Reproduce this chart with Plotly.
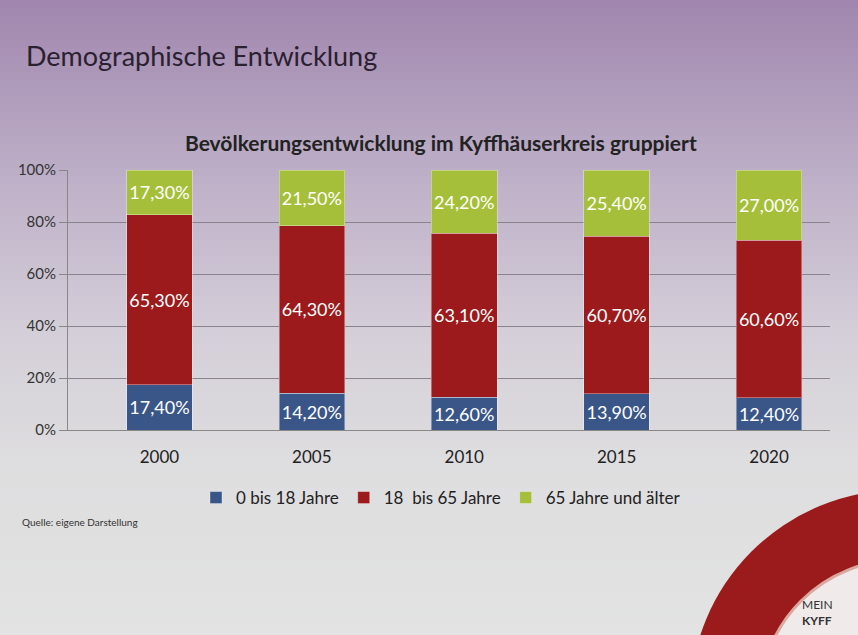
import plotly.graph_objects as go

years = ["2000", "2005", "2010", "2015", "2020"]
jung = [17.4, 14.2, 12.6, 13.9, 12.4]
mittel = [65.3, 64.3, 63.1, 60.7, 60.6]
alt = [17.3, 21.5, 24.2, 25.4, 27.0]
series_names = ["0 bis 18 Jahre", "18  bis 65 Jahre", "65 Jahre und älter"]
colors = ["#3a5688", "#9c1a1c", "#a6bf3a"]
tick_vals = [0, 20, 40, 60, 80, 100]
tick_text = ["0%", "20%", "40%", "60%", "80%", "100%"]

def fmt(v):
    return f"{v:.2f}".replace(".", ",") + "%"

FONT = "Lato"
W, H = 858, 635
ML, MR, MT, MB = 68, 28, 170, 205
PW, PH = W - ML - MR, H - MT - MB

def px_x(x):
    return (x - ML) / PW

def px_y(y):
    return (H - MB - y) / PH

fig = go.Figure()
for name, vals, col in zip(series_names, [jung, mittel, alt], colors):
    fig.add_trace(go.Bar(
        x=years, y=vals, name=name,
        marker=dict(color=col, line=dict(color="rgba(255,255,255,0.35)", width=1)),
        text=[fmt(v) for v in vals], textposition="inside", insidetextanchor="middle",
        textangle=0, constraintext="none",
        textfont=dict(color="white", size=18, family=FONT),
        width=0.43,
    ))

# background gradient (purple top -> light grey bottom)
stops = [(0, (160, 134, 174)), (180, (190, 176, 200)), (330, (212, 206, 216)), (460, (222, 221, 223)), (635, (226, 227, 226))]

def col_at(y):
    for (y0, c0), (y1, c1) in zip(stops[:-1], stops[1:]):
        if y0 <= y <= y1:
            t = (y - y0) / (y1 - y0)
            return "rgb(%d,%d,%d)" % tuple(round(a + (b - a) * t) for a, b in zip(c0, c1))
    return "rgb(%d,%d,%d)" % stops[-1][1]

shapes = []
step = 8
for yy in range(0, H, step):
    shapes.append(dict(type="rect", xref="paper", yref="paper", layer="below",
                       x0=px_x(-5), x1=px_x(W + 5), y0=px_y(yy + step + 1), y1=px_y(yy),
                       fillcolor=col_at(yy + step / 2), line=dict(width=0)))
# logo ring bottom-right
cx, cy = 900, 700
shapes.append(dict(type="circle", xref="paper", yref="paper", layer="above",
                   x0=px_x(cx - 210), x1=px_x(cx + 210), y0=px_y(cy + 210), y1=px_y(cy - 210),
                   fillcolor="#9b1a1c", line=dict(width=0)))
shapes.append(dict(type="circle", xref="paper", yref="paper", layer="above",
                   x0=px_x(cx - 140), x1=px_x(cx + 140), y0=px_y(cy + 140), y1=px_y(cy - 140),
                   fillcolor="#f0ebea", line=dict(color="#d9a9a0", width=3)))

fig.update_layout(
    width=W, height=H,
    margin=dict(l=ML, r=MR, t=MT, b=MB),
    paper_bgcolor="#d6d0da", plot_bgcolor="rgba(0,0,0,0)",
    barmode="stack",
    font=dict(family=FONT, color="#2a2530"),
    shapes=shapes,
    showlegend=True,
    legend=dict(orientation="h", x=px_x(441), xanchor="center", y=px_y(480), yanchor="top",
                font=dict(size=17, family=FONT, color="#222"), traceorder="normal",
                bgcolor="rgba(0,0,0,0)", itemwidth=30),
    xaxis=dict(showgrid=False, showline=True, linecolor="#888", linewidth=1, range=[-0.6, 4.4],
               tickfont=dict(size=17, color="#222"), ticks="", ticklabelstandoff=12),
    yaxis=dict(range=[0, 100], tickvals=tick_vals, ticktext=tick_text,
               showgrid=True, gridcolor="#8a8490", gridwidth=1,
               showline=True, linecolor="#888", ticks="outside", ticklen=8, tickcolor="#888",
               tickfont=dict(size=15, color="#333"), zeroline=False),
    annotations=[
        dict(text="Demographische Entwicklung", xref="paper", yref="paper", x=px_x(24), y=px_y(55),
             xanchor="left", yanchor="middle", showarrow=False,
             font=dict(size=27, family=FONT, color="#2a2030")),
        dict(text="<b>Bevölkerungsentwicklung im Kyffhäuserkreis gruppiert</b>", xref="paper", yref="paper",
             x=px_x(441), y=px_y(143), xanchor="center", yanchor="middle", showarrow=False,
             font=dict(size=21, family=FONT, color="#222")),
        dict(text="Quelle: eigene Darstellung", xref="paper", yref="paper", x=px_x(20), y=px_y(522),
             xanchor="left", yanchor="middle", showarrow=False,
             font=dict(size=10, family=FONT, color="#333")),
        dict(text="MEIN<br><b>KYFF</b>", xref="paper", yref="paper", x=px_x(800), y=px_y(612),
             xanchor="left", yanchor="middle", showarrow=False, align="left",
             font=dict(size=12, family=FONT, color="#333")),
    ],
)

fig.write_html("out.html", config={"displayModeBar": False},
               post_script="document.body.style.margin='0';document.body.style.overflow='hidden';")
